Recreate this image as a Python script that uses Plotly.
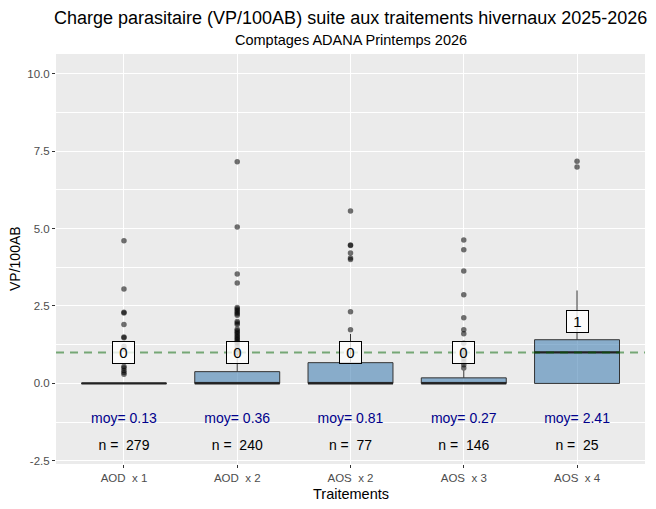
import plotly.graph_objects as go

# ---- data ----
traitements = ['AOD  x 1', 'AOD  x 2', 'AOS  x 2', 'AOS  x 3', 'AOS  x 4']
q1      = [0, 0, 0, 0, 0]
medians = [0, 0, 0, 0, 1]
q3      = [0, 0.38, 0.67, 0.18, 1.41]
lower   = [0, 0, 0, 0, 0]
upper   = [0, 0.95, 1.6, 0.42, 3.0]
moyennes = [0.13, 0.36, 0.81, 0.27, 2.41]
effectifs = [279, 240, 77, 146, 25]
seuil = 1

outliers = [
    [4.6, 3.05, 2.3, 2.27, 1.9, 1.5, 1.47, 1.2, 1.1, 0.55, 0.5, 0.42, 0.35, 0.3],
    [7.15, 5.05, 3.53, 3.24, 2.45, 2.4, 2.35, 2.3, 2.25, 2.2, 2.0, 1.95, 1.9, 1.75,
     1.7, 1.65, 1.6, 1.55, 1.5, 1.45, 1.4, 1.35, 1.3, 1.2, 1.1, 1.0],
    [5.56, 4.47, 4.45, 4.21, 4.05, 4.0, 2.31, 1.73],
    [4.63, 4.31, 3.63, 2.86, 2.12, 1.73, 1.6, 1.3, 1.1, 1.0, 0.9, 0.8, 0.7, 0.6, 0.5],
    [7.17, 6.98],
]

pos = list(range(1, len(traitements) + 1))
font = 'Liberation Sans, Arial, sans-serif'

fig = go.Figure()

fig.add_trace(go.Box(
    x=pos, q1=q1, median=medians, q3=q3, lowerfence=lower, upperfence=upper,
    width=0.75, whiskerwidth=0, boxpoints=False,
    fillcolor='rgba(70,130,180,0.6)', line=dict(color='#333333', width=1),
    showlegend=False, hoverinfo='skip'))

# thicker median segments like ggplot
mx, my = [], []
for p, m in zip(pos, medians):
    mx += [p - 0.375, p + 0.375, None]
    my += [m, m, None]
fig.add_trace(go.Scatter(x=mx, y=my, mode='lines', line=dict(color='#222222', width=2.2),
                         showlegend=False, hoverinfo='skip'))

ox, oy = [], []
for p, vals in zip(pos, outliers):
    ox += [p] * len(vals)
    oy += vals
fig.add_trace(go.Scatter(x=ox, y=oy, mode='markers',
                         marker=dict(color='rgba(0,0,0,0.55)', size=5.5, line=dict(width=0)),
                         showlegend=False, hoverinfo='skip'))

fig.add_trace(go.Scatter(x=pos, y=[-1.15] * len(pos), mode='text',
                         text=[f'moy= {m:.2f}' for m in moyennes],
                         textfont=dict(color='#00008B', size=14, family=font),
                         showlegend=False, hoverinfo='skip'))
fig.add_trace(go.Scatter(x=pos, y=[-2.05] * len(pos), mode='text',
                         text=[f'n =  {n}' for n in effectifs],
                         textfont=dict(color='black', size=14, family=font),
                         showlegend=False, hoverinfo='skip'))

for p, m in zip(pos, medians):
    fig.add_annotation(x=p, y=m + 1, text=str(m), showarrow=False,
                       font=dict(size=15, color='black', family=font),
                       width=15, height=15,
                       bgcolor='rgba(255,255,255,0.8)', bordercolor='black',
                       borderwidth=1, borderpad=3)

fig.add_hline(y=seuil, line=dict(color='rgba(0,100,0,0.5)', width=2, dash='8px,6px'),
              layer='above')

# titles placed in pixels relative to the panel
fig.add_annotation(xref='paper', yref='paper', x=0.5, y=1, yshift=36, yanchor='middle',
                   text='Charge parasitaire (VP/100AB) suite aux traitements hivernaux 2025-2026',
                   showarrow=False, font=dict(size=18, color='black', family=font))
fig.add_annotation(xref='paper', yref='paper', x=0.5, y=1, yshift=14, yanchor='middle',
                   text='Comptages ADANA Printemps 2026',
                   showarrow=False, font=dict(size=14.5, color='black', family=font))
fig.add_annotation(xref='paper', yref='paper', x=0.5, y=0, yshift=-30, yanchor='middle',
                   text='Traitements', showarrow=False,
                   font=dict(size=14.5, color='black', family=font))
fig.add_annotation(xref='paper', yref='paper', x=0, xshift=-41, y=0.5, xanchor='center',
                   text='VP/100AB', showarrow=False, textangle=-90,
                   font=dict(size=14, color='black', family=font))

# page body has an 8px margin, so the figure is sized to fit the 656x509 window
fig.update_layout(
    width=640, height=493,
    margin=dict(l=48, r=3, t=46, b=37, autoexpand=False),
    paper_bgcolor='white', plot_bgcolor='#EBEBEB',
    font=dict(family=font, color='black'),
    xaxis=dict(range=[0.4, 5.6], tickvals=pos, ticktext=traitements, automargin=False,
               showgrid=True, gridcolor='white', gridwidth=1.2, zeroline=False,
               ticks='outside', ticklen=3, tickcolor='#333333',
               tickfont=dict(size=11.5, color='#4D4D4D')),
    yaxis=dict(range=[-2.6, 10.63], tickvals=[-2.5, 0, 2.5, 5, 7.5, 10],
               ticktext=['-2.5', '0.0', '2.5', '5.0', '7.5', '10.0'], automargin=False,
               showgrid=True, gridcolor='white', gridwidth=1.2, zeroline=False,
               ticks='outside', ticklen=3, tickcolor='#333333',
               tickfont=dict(size=11.5, color='#4D4D4D'),
               minor=dict(tickvals=[-1.25, 1.25, 3.75, 6.25, 8.75], showgrid=True,
                          gridcolor='white', gridwidth=0.6, ticks='')),
)

fig.write_html('out.html')
